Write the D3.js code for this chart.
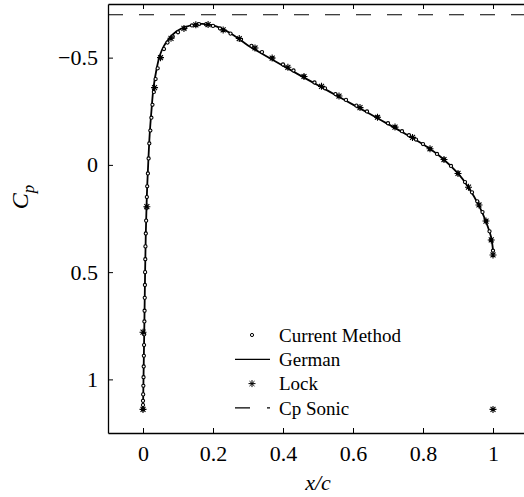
<!DOCTYPE html>
<html>
<head>
<meta charset="utf-8">
<script src="https://cdn.jsdelivr.net/npm/d3@7"></script>
<style>
  body { margin: 0; background: #fff; }
  svg { display: block; }
  svg text { font-family: "Liberation Serif", "Times New Roman", Times, serif; fill: #000; }
</style>
</head>
<body>
<svg id="cp-chart" width="524" height="497"></svg>
<script>
// Current Method (x/c, Cp)
var currentX = [0.000, 0.000, 0.000, 0.0005, 0.001, 0.0015, 0.002, 0.0025, 0.003, 0.0035, 0.004, 0.0045, 0.005, 0.0055, 0.006, 0.0065, 0.007, 0.008, 0.009, 0.010, 0.011, 0.012, 0.014, 0.016, 0.018, 0.021, 0.024, 0.027, 0.031, 0.036, 0.042, 0.050, 0.060, 0.070, 0.085, 0.100, 0.120, 0.140, 0.160, 0.180, 0.200, 0.220, 0.250, 0.280, 0.310, 0.340, 0.370, 0.400, 0.430, 0.460, 0.490, 0.520, 0.550, 0.580, 0.610, 0.640, 0.670, 0.700, 0.720, 0.740, 0.760, 0.780, 0.800, 0.820, 0.840, 0.860, 0.880, 0.900, 0.920, 0.940, 0.955, 0.970, 0.980, 0.990, 0.995, 1.000];
var currentCp = [1.14, 1.12, 1.10, 1.07, 1.03, 0.99, 0.94, 0.89, 0.84, 0.79, 0.73, 0.68, 0.62, 0.56, 0.50, 0.44, 0.38, 0.32, 0.26, 0.20, 0.15, 0.10, 0.04, -0.03, -0.10, -0.16, -0.22, -0.28, -0.34, -0.40, -0.45, -0.50, -0.54, -0.57, -0.598, -0.618, -0.638, -0.650, -0.656, -0.655, -0.648, -0.636, -0.612, -0.584, -0.555, -0.526, -0.497, -0.468, -0.440, -0.412, -0.384, -0.357, -0.330, -0.303, -0.276, -0.249, -0.222, -0.194, -0.176, -0.157, -0.138, -0.118, -0.097, -0.075, -0.051, -0.025, 0.005, 0.040, 0.080, 0.128, 0.170, 0.220, 0.262, 0.310, 0.350, 0.400];

// German (solid line)
var germanX = [0.000, 0.002, 0.004, 0.006, 0.008, 0.010, 0.012, 0.015, 0.019, 0.024, 0.030, 0.038, 0.048, 0.060, 0.075, 0.095, 0.120, 0.150, 0.170, 0.200, 0.250, 0.300, 0.350, 0.400, 0.450, 0.500, 0.550, 0.600, 0.650, 0.700, 0.750, 0.800, 0.850, 0.900, 0.930, 0.960, 0.980, 0.995, 1.000];
var germanCp = [1.14, 0.94, 0.73, 0.50, 0.32, 0.20, 0.10, -0.01, -0.14, -0.25, -0.36, -0.44, -0.51, -0.555, -0.59, -0.622, -0.642, -0.655, -0.657, -0.650, -0.614, -0.557, -0.509, -0.462, -0.416, -0.371, -0.326, -0.281, -0.236, -0.190, -0.144, -0.096, -0.038, 0.040, 0.105, 0.190, 0.265, 0.340, 0.400];

// Lock (asterisks)
var lockX = [0.000, 0.000, 0.011, 0.033, 0.050, 0.080, 0.117, 0.151, 0.186, 0.229, 0.275, 0.320, 0.369, 0.414, 0.460, 0.510, 0.560, 0.620, 0.670, 0.720, 0.770, 0.820, 0.860, 0.900, 0.930, 0.960, 0.980, 0.995, 1.000, 1.000];
var lockCp = [1.14, 0.78, 0.195, -0.36, -0.50, -0.59, -0.636, -0.653, -0.654, -0.629, -0.589, -0.545, -0.498, -0.455, -0.412, -0.366, -0.321, -0.267, -0.222, -0.176, -0.128, -0.075, -0.025, 0.040, 0.104, 0.187, 0.262, 0.350, 0.420, 1.14];

// Sonic pressure coefficient
var cpSonic = -0.70;

var xTicks = [0, 0.2, 0.4, 0.6, 0.8, 1];
var yTicks = [-0.5, 0, 0.5, 1];
var legendLabels = ["Current Method", "German", "Lock", "Cp Sonic"];

var margin = { top: 4, right: -4, bottom: 64, left: 108 };
var svgWidth = 524, svgHeight = 497;
var width = svgWidth - margin.left - margin.right;
var height = svgHeight - margin.top - margin.bottom;

var x = d3.scaleLinear().domain([-0.1, 1.1]).range([0, width]);
var y = d3.scaleLinear().domain([-0.75, 1.25]).range([0, height]); // Cp axis inverted

var svg = d3.select("#cp-chart")
    .append("g")
    .attr("transform", "translate(" + margin.left + "," + margin.top + ")");

// clip so nothing spills out of the box
svg.append("clipPath").attr("id", "plot-clip")
    .append("rect").attr("width", width).attr("height", height);

var plot = svg.append("g").attr("clip-path", "url(#plot-clip)");

// Cp sonic dashed line
plot.append("line")
    .attr("x1", 0).attr("x2", width)
    .attr("y1", y(cpSonic)).attr("y2", y(cpSonic))
    .attr("stroke", "#000")
    .attr("stroke-width", 1.2)
    .attr("stroke-dasharray", "15,16");

// German line
var germanData = germanX.map((d, i) => [d, germanCp[i]]);
var line = d3.line()
    .x(d => x(d[0]))
    .y(d => y(d[1]))
    .curve(d3.curveCatmullRom.alpha(0.5));

plot.append("path")
    .datum(germanData)
    .attr("d", line)
    .attr("fill", "none")
    .attr("stroke", "#000")
    .attr("stroke-width", 1.8);

// Current method circles
var currentData = currentX.map((d, i) => [d, currentCp[i]]);
plot.selectAll(".current")
    .data(currentData)
    .enter().append("circle")
    .attr("class", "current")
    .attr("cx", d => x(d[0]))
    .attr("cy", d => y(d[1]))
    .attr("r", 1.6)
    .attr("fill", "#fff")
    .attr("stroke", "#000")
    .attr("stroke-width", 1.1);

// asterisk marker
function starPath(s) {
    var d = s * 0.7071;
    return "M" + (-s) + ",0L" + s + ",0M0," + (-s) + "L0," + s +
        "M" + (-d) + "," + (-d) + "L" + d + "," + d +
        "M" + (-d) + "," + d + "L" + d + "," + (-d);
}

var lockData = lockX.map((d, i) => [d, lockCp[i]]);
plot.selectAll(".lock")
    .data(lockData)
    .enter().append("path")
    .attr("class", "lock")
    .attr("transform", d => "translate(" + x(d[0]) + "," + y(d[1]) + ")")
    .attr("d", starPath(3.5))
    .attr("fill", "none")
    .attr("stroke", "#000")
    .attr("stroke-width", 1.1);

// Axes, ticks pointing inward
var fontSize = 22;
var xAxis = svg.append("g")
    .attr("transform", "translate(0," + height + ")")
    .call(d3.axisBottom(x).tickValues(xTicks).tickSizeInner(-5).tickSizeOuter(0).tickPadding(12)
        .tickFormat(d3.format("")));
var xTop = svg.append("g")
    .call(d3.axisTop(x).tickValues(xTicks).tickSizeInner(-5).tickSizeOuter(0).tickFormat(""));
var yAxis = svg.append("g")
    .call(d3.axisLeft(y).tickValues(yTicks).tickSizeInner(-5).tickSizeOuter(0).tickPadding(10)
        .tickFormat(d => d < 0 ? "\u2212" + Math.abs(d) : d));

[xAxis, xTop, yAxis].forEach(function (g) {
    g.attr("font-family", null);
    g.select(".domain").attr("stroke-width", 1.3);
    g.selectAll("text")
        .attr("fill", "#000")
        .style("font-size", fontSize + "px");
});

// X-axis label
svg.append("text")
    .attr("x", x(0.5))
    .attr("y", height + 57)
    .style("text-anchor", "middle")
    .style("font-style", "italic")
    .style("font-size", "22px")
    .text("x/c");

// Y-axis label
var yLabel = svg.append("text")
    .attr("transform", "translate(" + (-80) + "," + (y(0.15)) + ") rotate(-90)")
    .style("text-anchor", "middle")
    .style("font-style", "italic")
    .style("font-size", "24px");
yLabel.append("tspan").text("C");
yLabel.append("tspan").attr("dy", 6).style("font-size", "17px").text("p");

// Legend
var legend = svg.selectAll(".legend")
    .data(legendLabels)
    .enter().append("g")
    .attr("class", "legend")
    .attr("transform", (d, i) => "translate(" + (235 - margin.left) + "," + (335 - margin.top + i * 24.3) + ")");

legend.append("text")
    .attr("x", 44)
    .attr("dy", "0.35em")
    .style("font-size", "19px")
    .text(d => d);

legend.each(function (d, i) {
    var g = d3.select(this);
    if (i === 0) {
        g.append("circle").attr("cx", 17).attr("r", 1.6)
            .attr("fill", "#fff").attr("stroke", "#000");
    } else if (i === 1) {
        g.append("line").attr("x1", 0).attr("x2", 35)
            .attr("stroke", "#000").attr("stroke-width", 1.3);
    } else if (i === 2) {
        g.append("path").attr("transform", "translate(17,0)")
            .attr("d", starPath(3.5)).attr("stroke", "#000").attr("fill", "none");
    } else {
        g.append("line").attr("x1", 0).attr("x2", 35)
            .attr("stroke", "#000").attr("stroke-width", 1.2)
            .attr("stroke-dasharray", "15,17");
    }
});
</script>
</body>
</html>
